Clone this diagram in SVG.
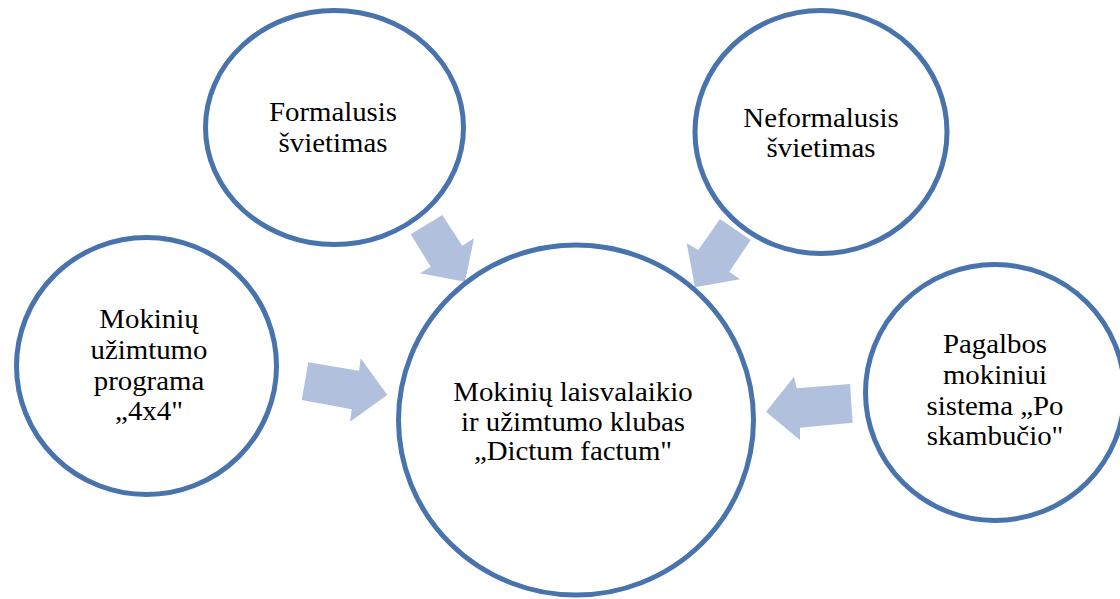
<svg xmlns="http://www.w3.org/2000/svg" width="1120" height="599" viewBox="0 0 1120 599">
<style>
.node{fill:#ffffff;stroke:#4873ac;stroke-width:5}
.arrow{fill:#b1c1dd;stroke:none}
.lbl{font-family:"Liberation Serif","Times New Roman",serif;font-size:28px;fill:#000000;text-anchor:middle}
</style>
<rect width="1120" height="599" fill="#ffffff"/>
<g id="connectors">
<polygon class="arrow" points="410.7,234.3 442.3,215 462.3,245.7 474,238.3 465,281.7 420,273.3 430.7,266.7"/>
<polygon class="arrow" points="720,219 750.7,240 729.3,271.7 740,279.3 695,287.3 686.7,243.3 698.3,250"/>
<polygon class="arrow" points="308.3,362.3 359,370.7 360.7,358.3 387.3,395 350,421.7 351.7,409.3 301.7,400"/>
<polygon class="arrow" points="850,384 796.7,388.3 794,376.7 766,411.7 800,440 800,427.7 852.7,422.7"/>
</g>
<g id="node-formalusis">
<ellipse class="node" cx="334.5" cy="127.5" rx="129" ry="117"/>
<text class="lbl" transform="matrix(1.03 0 0 1 333 0)"><tspan x="0" y="121">Formalusis</tspan><tspan x="0" y="152">švietimas</tspan></text>
</g>
<g id="node-neformalusis">
<ellipse class="node" cx="821" cy="132" rx="126" ry="121.5"/>
<text class="lbl" transform="matrix(1.03 0 0 1 821 0)"><tspan x="0" y="127">Neformalusis</tspan><tspan x="0" y="157">švietimas</tspan></text>
</g>
<g id="node-4x4">
<ellipse class="node" cx="146.5" cy="366" rx="130" ry="128.5"/>
<text class="lbl" transform="matrix(1.03 0 0 1 149 0)"><tspan x="0" y="328">Mokinių</tspan><tspan x="0" y="359">užimtumo</tspan><tspan x="0" y="390">programa</tspan><tspan x="0" y="420">„4x4"</tspan></text>
</g>
<g id="node-po-skambucio">
<ellipse class="node" cx="995" cy="392.5" rx="129.5" ry="128"/>
<text class="lbl" transform="matrix(1.03 0 0 1 995 0)"><tspan x="0" y="353">Pagalbos</tspan><tspan x="0" y="384">mokiniui</tspan><tspan x="0" y="415">sistema „Po</tspan><tspan x="0" y="445">skambučio"</tspan></text>
</g>
<g id="node-center">
<ellipse class="node" cx="576" cy="420" rx="177.5" ry="175"/>
<text class="lbl" transform="matrix(1.03 0 0 1 573 0)"><tspan x="0" y="401">Mokinių laisvalaikio</tspan><tspan x="0" y="431">ir užimtumo klubas</tspan><tspan x="0" y="460">„Dictum factum"</tspan></text>
</g>
</svg>
